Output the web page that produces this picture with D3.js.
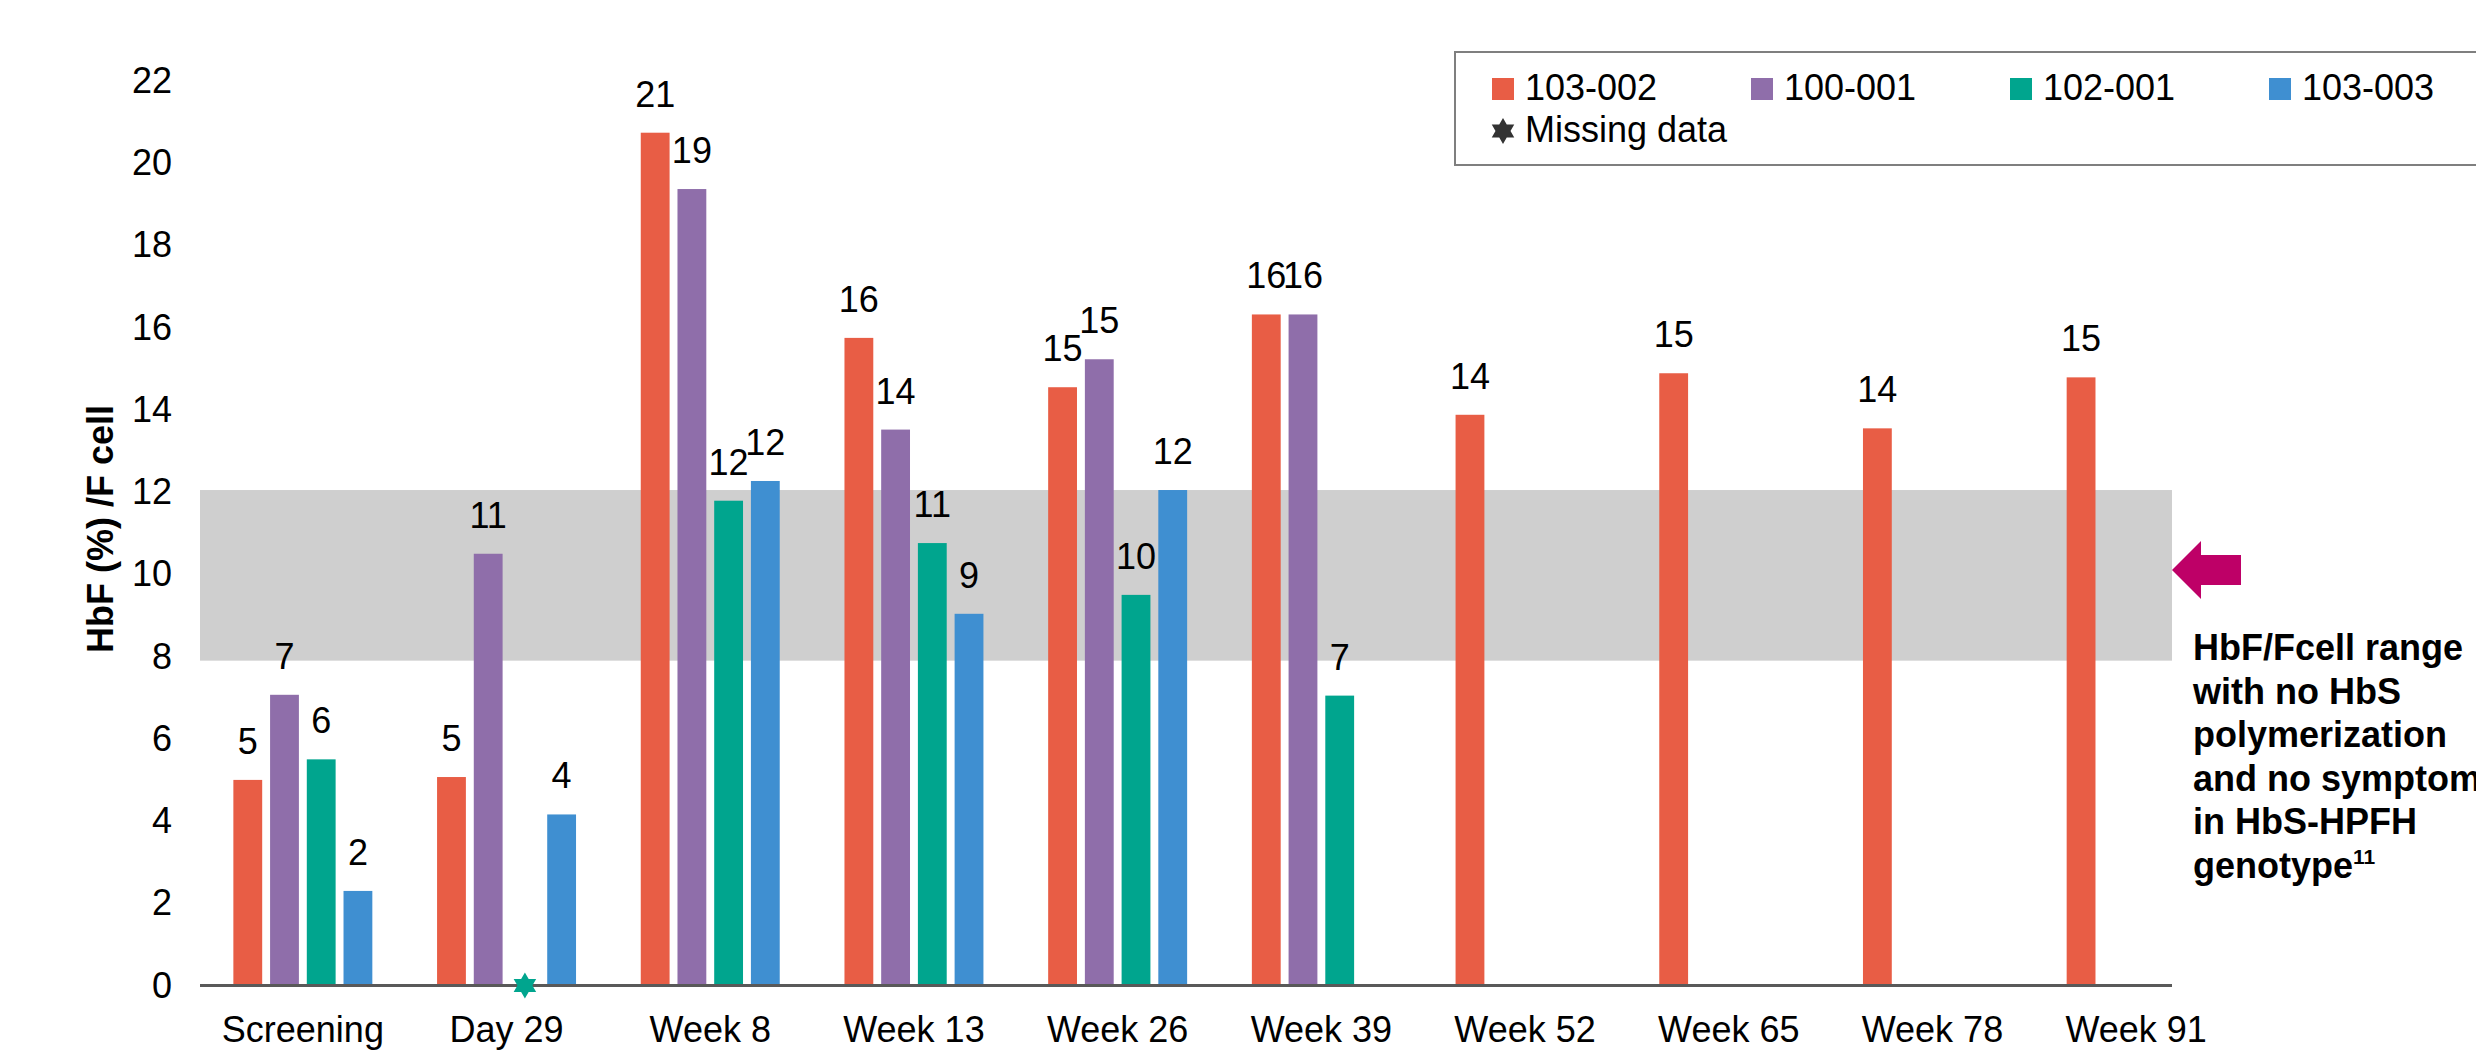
<!DOCTYPE html>
<html>
<head>
<meta charset="utf-8">
<script src="https://cdn.jsdelivr.net/npm/d3@7"></script>
<style>
  body { margin: 0; background: #fff; }
  svg { display: block; font-family: "Liberation Sans", Arial, sans-serif; }
</style>
</head>
<body>
<div id="chart"></div>
<script>
// HbF/F-cell by visit, one bar per patient
var categories = ['Screening', 'Day 29', 'Week 8', 'Week 13', 'Week 26', 'Week 39', 'Week 52', 'Week 65', 'Week 78', 'Week 91'];
var patients = ['103-002', '100-001', '102-001', '103-003'];

var p103_002 = [5.0, 5.07, 20.74, 15.75, 14.55, 16.32, 13.88, 14.89, 13.55, 14.79];
var p100_001 = [7.07, 10.5, 19.37, 13.52, 15.23, 16.32, null, null, null, null];
var p102_001 = [5.5, null, 11.79, 10.76, 9.5, 7.05, null, null, null, null];
var p103_003 = [2.3, 4.16, 12.27, 9.04, 12.05, null, null, null, null, null];

// points flagged as missing (drawn as a star on the axis)
var missingPatients = ['102-001'];
var missingCategories = ['Day 29'];

var yTicks = [0, 2, 4, 6, 8, 10, 12, 14, 16, 18, 20, 22];
var hpfhRange = [7.9, 12.05];
var noteLines = ['HbF/Fcell range', 'with no HbS', 'polymerization', 'and no symptoms', 'in HbS-HPFH', 'genotype'];
var noteSup = '11';
var yTitle = 'HbF (%) /F cell';
var missingLabel = 'Missing data';

var colors = ['#E85D45', '#8F6EAA', '#00A58E', '#3F8FD1'];

var width = 2476,
    height = 1056,
    plotLeft = 200,
    plotRight = 2172,
    fontSize = 36;

var seriesValues = [p103_002, p100_001, p102_001, p103_003];

var bars = [];
patients.forEach(function(p, si) {
  seriesValues[si].forEach(function(v, ci) {
    if (v != null) bars.push({patient: p, category: categories[ci], value: v});
  });
});

var missing = missingPatients.map(function(p, i) {
  return {patient: p, category: missingCategories[i]};
});

var color = d3.scaleOrdinal().domain(patients).range(colors);

var y = d3.scaleLinear().domain([0, 22]).range([985.5, 80.9]);

var x0 = d3.scaleBand()
  .domain(categories)
  .range([201, 2238])
  .paddingInner(0.279)
  .paddingOuter(0.1395);

var x1 = d3.scaleBand()
  .domain(patients)
  .range([0, x0.bandwidth()])
  .paddingInner(0.215)
  .paddingOuter(0.1075);

// six pointed star
var hexagram = {
  draw: function(context, size) {
    var r = Math.sqrt(size), ri = r / Math.sqrt(3);
    for (var i = 0; i < 12; i++) {
      var a = -Math.PI / 2 + i * Math.PI / 6;
      var rr = i % 2 ? ri : r;
      if (i === 0) context.moveTo(rr * Math.cos(a), rr * Math.sin(a));
      else context.lineTo(rr * Math.cos(a), rr * Math.sin(a));
    }
    context.closePath();
  }
};
var star = d3.symbol().type(hexagram).size(13 * 13);

var svg = d3.select('#chart').append('svg')
  .attr('width', width)
  .attr('height', height);

svg.append('rect')
  .attr('width', width)
  .attr('height', height)
  .attr('fill', '#fff');

// grey reference band
svg.append('rect')
  .attr('x', plotLeft)
  .attr('y', y(hpfhRange[1]))
  .attr('width', plotRight - plotLeft)
  .attr('height', y(hpfhRange[0]) - y(hpfhRange[1]))
  .attr('fill', '#cfcfcf');

// bars
svg.append('g').selectAll('rect.bar')
  .data(bars)
  .enter().append('rect')
    .attr('class', 'bar')
    .attr('x', function(d) { return x0(d.category) + x1(d.patient); })
    .attr('y', function(d) { return y(d.value); })
    .attr('width', x1.bandwidth())
    .attr('height', function(d) { return y(0) - y(d.value); })
    .attr('fill', function(d) { return color(d.patient); });

// value labels
svg.append('g').selectAll('text.value')
  .data(bars)
  .enter().append('text')
    .attr('class', 'value')
    .attr('x', function(d) { return x0(d.category) + x1(d.patient) + x1.bandwidth() / 2; })
    .attr('y', function(d) { return y(d.value) - 26; })
    .attr('text-anchor', 'middle')
    .attr('font-size', fontSize)
    .attr('fill', '#000')
    .text(function(d) { return Math.round(d.value); });

// x baseline
svg.append('line')
  .attr('x1', plotLeft)
  .attr('x2', plotRight)
  .attr('y1', y(0))
  .attr('y2', y(0))
  .attr('stroke', '#595959')
  .attr('stroke-width', 3);

// missing data stars
svg.append('g').selectAll('path.missing')
  .data(missing)
  .enter().append('path')
    .attr('class', 'missing')
    .attr('d', star)
    .attr('transform', function(d) {
      return 'translate(' + (x0(d.category) + x1(d.patient) + x1.bandwidth() / 2) + ',' + y(0) + ')';
    })
    .attr('fill', function(d) { return color(d.patient); });

// axes
var xAxis = d3.axisBottom(x0).tickSize(0).tickPadding(31);
var yAxis = d3.axisLeft(y).tickValues(yTicks).tickSize(0).tickPadding(28);

var gx = svg.append('g')
  .attr('transform', 'translate(0,' + y(0) + ')')
  .call(xAxis);
var gy = svg.append('g')
  .attr('transform', 'translate(' + plotLeft + ',0)')
  .call(yAxis);

[gx, gy].forEach(function(g) {
  g.select('.domain').remove();
  g.selectAll('text')
    .attr('font-size', fontSize)
    .attr('font-family', '"Liberation Sans", Arial, sans-serif')
    .attr('fill', '#000');
});

// y title
svg.append('text')
  .attr('transform', 'translate(100,529) rotate(-90)')
  .attr('text-anchor', 'middle')
  .attr('dominant-baseline', 'central')
  .attr('font-size', fontSize)
  .attr('font-weight', 'bold')
  .attr('fill', '#000')
  .text(yTitle);

// legend
var legend = svg.append('g');
legend.append('rect')
  .attr('x', 1455)
  .attr('y', 52)
  .attr('width', 1100)
  .attr('height', 113)
  .attr('fill', '#fff')
  .attr('stroke', '#7f7f7f')
  .attr('stroke-width', 2);

var items = legend.selectAll('g.item')
  .data(patients)
  .enter().append('g')
    .attr('class', 'item')
    .attr('transform', function(d, i) { return 'translate(' + (1492 + i * 259) + ',0)'; });

items.append('rect')
  .attr('y', 78)
  .attr('width', 22)
  .attr('height', 22)
  .attr('fill', function(d) { return color(d); });

items.append('text')
  .attr('x', 33)
  .attr('y', 100)
  .attr('font-size', fontSize)
  .attr('fill', '#000')
  .text(function(d) { return d; });

legend.append('path')
  .attr('d', star)
  .attr('transform', 'translate(1503,131)')
  .attr('fill', '#333');

legend.append('text')
  .attr('x', 1525)
  .attr('y', 142)
  .attr('font-size', fontSize)
  .attr('fill', '#000')
  .text(missingLabel);

// arrow pointing to the band
var my = y((hpfhRange[0] + hpfhRange[1]) / 2);
svg.append('polygon')
  .attr('points', [
    [plotRight, 570], [2201, 541], [2201, 555], [2241, 555],
    [2241, 585], [2201, 585], [2201, 599]
  ].map(function(p) { return p.join(','); }).join(' '))
  .attr('fill', '#BE0067');

// annotation text
var note = svg.append('text')
  .attr('font-size', fontSize)
  .attr('font-weight', 'bold')
  .attr('fill', '#000');

noteLines.forEach(function(line, i) {
  var t = note.append('tspan')
    .attr('x', 2193)
    .attr('y', 660 + i * 43.5)
    .text(line);
  if (i === noteLines.length - 1) {
    note.append('tspan')
      .attr('dy', -14)
      .attr('font-size', 21)
      .text(noteSup);
  }
});
</script>
</body>
</html>
